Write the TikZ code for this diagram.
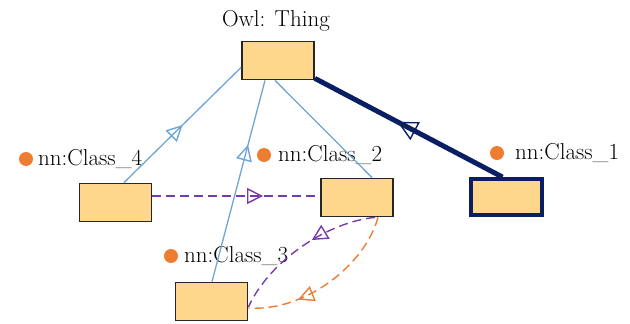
\documentclass[tikz,border=0pt]{standalone}
\usetikzlibrary{arrows.meta,decorations.markings}
\definecolor{boxfill}{RGB}{254,214,140}
\definecolor{lblue}{RGB}{110,165,215}
\definecolor{navy}{RGB}{10,30,100}
\definecolor{purp}{RGB}{120,60,170}
\definecolor{orng}{RGB}{237,125,49}
\tikzset{
  box/.style={draw=black!85, line width=1.8pt, fill=boxfill, minimum width=72pt, minimum height=38pt, inner sep=0pt},
  boldbox/.style={box, draw=navy, line width=3.8pt, minimum width=71pt, minimum height=36pt},
  lbl/.style={anchor=base west, inner sep=0pt, font=\fontsize{23}{25}\selectfont},
  dotmark/.style={fill=orng, draw=none, circle, minimum size=14pt, inner sep=0pt},
  blueline/.style={draw=lblue, line width=1.3pt},
  navyline/.style={draw=navy, line width=5pt},
  purpline/.style={draw=purp, line width=1.4pt, dash pattern=on 9pt off 5pt},
  orngline/.style={draw=orng, line width=1.4pt, dash pattern=on 9pt off 5pt},
  midarrow/.style n args={3}{postaction={decorate}, decoration={markings, mark=at position #1 with {\arrow{Triangle[open, length=#3, width=#3, line width=1.4pt, color=#2]}}}}
}
\begin{document}
\begin{tikzpicture}[x=1pt,y=-1pt]
\useasboundingbox (0,0) rectangle (630,324);
% boxes
\node[box] (t) at (278,60.5) {};
\node[box] (c4) at (115.5,202.5) {};
\node[box] (c2) at (357,197.5) {};
\node[box] (c3) at (211.5,301.5) {};
\node[boldbox] (c1) at (506.5,197) {};
% labels
\node[lbl, anchor=base] (tl) at (276,27) {Owl: Thing};
\node[dotmark] (d4) at (26,159) {};
\node[lbl] (l4) at (38,165) {nn:Class\_4};
\node[dotmark] (d2) at (264,155) {};
\node[lbl] (l2) at (278,161) {nn:Class\_2};
\node[dotmark] (d3) at (171,256) {};
\node[lbl] (l3) at (184,262) {nn:Class\_3};
\node[dotmark] (d1) at (497,153) {};
\node[lbl] (l1) at (515,159) {nn:Class\_1};
% connectors
\draw[blueline, midarrow={0.5}{lblue}{16pt}] ([xshift=8.5pt]c4.north) -- ([yshift=13pt]t.south west);
\draw[blueline, midarrow={0.68}{lblue}{16pt}] ([xshift=0.5pt]c3.north) -- ([xshift=-13pt]t.south);
\draw[blueline] ([xshift=-3pt]t.south) -- ([xshift=15pt]c2.north);
\draw[navyline, midarrow={0.56}{navy}{20pt}] ([xshift=-4pt]c1.north) -- ([yshift=2pt]t.south east);
\draw[purpline, midarrow={0.66}{purp}{16pt}] ([yshift=6.5pt]c4.east) -- ([yshift=1.5pt]c2.west);
\draw[purpline, midarrow={0.42}{purp}{16pt}] ([xshift=18pt]c2.south) .. controls (328,222) and (270,260) .. ([yshift=-5.5pt]c3.east);
\draw[orngline, midarrow={0.7}{orng}{16pt}] ([xshift=21pt]c2.south) .. controls (365,265) and (305,312) .. ([yshift=-6.5pt]c3.east);
\end{tikzpicture}
\end{document}
